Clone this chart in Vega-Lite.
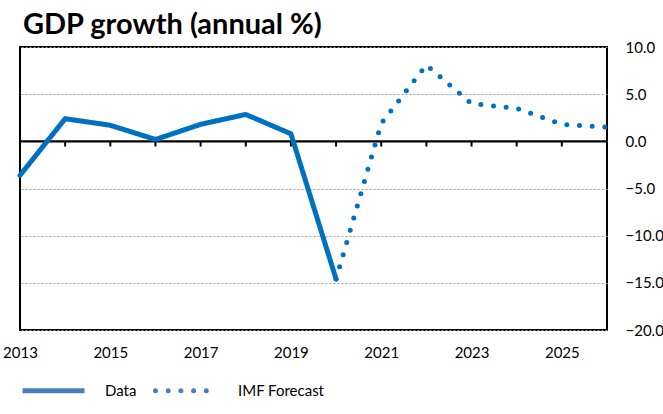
{
  "$schema": "https://vega.github.io/schema/vega-lite/v6.json",
  "width": 587,
  "height": 283,
  "autosize": "none",
  "padding": {"left": 20, "top": 47, "right": 56, "bottom": 84},
  "background": "white",
  "title": {
    "text": "GDP growth (annual %)",
    "anchor": "start",
    "frame": "group",
    "font": "Lato",
    "fontSize": 29,
    "fontWeight": "bold",
    "color": "#000000",
    "baseline": "alphabetic",
    "offset": 4,
    "dy": 27,
    "dx": 3
  },
  "config": {
    "view": {"stroke": "#000000", "strokeWidth": 2},
    "axis": {"labelFont": "Lato", "labelFontSize": 15, "labelColor": "#000000"},
    "legend": {"labelFont": "Lato", "labelFontSize": 15, "labelColor": "#000000"}
  },
  "datasets": {
    "gdp": [
      {"year": 2013, "value": -3.6, "series": "Data"},
      {"year": 2014, "value": 2.4, "series": "Data"},
      {"year": 2015, "value": 1.7, "series": "Data"},
      {"year": 2016, "value": 0.2, "series": "Data"},
      {"year": 2017, "value": 1.8, "series": "Data"},
      {"year": 2018, "value": 2.85, "series": "Data"},
      {"year": 2019, "value": 0.8, "series": "Data"},
      {"year": 2020, "value": -14.6, "series": "Data"},
      {"year": 2020, "value": -14.6, "series": "IMF Forecast"},
      {"year": 2021, "value": 1.9, "series": "IMF Forecast"},
      {"year": 2022, "value": 8.1, "series": "IMF Forecast"},
      {"year": 2023, "value": 4.0, "series": "IMF Forecast"},
      {"year": 2024, "value": 3.5, "series": "IMF Forecast"},
      {"year": 2025, "value": 1.8, "series": "IMF Forecast"},
      {"year": 2026, "value": 1.5, "series": "IMF Forecast"}
    ],
    "ticks": [
      {"year": 2014, "top": 0, "bottom": -0.55},
      {"year": 2015, "top": 0, "bottom": -0.55},
      {"year": 2016, "top": 0, "bottom": -0.55},
      {"year": 2017, "top": 0, "bottom": -0.55},
      {"year": 2018, "top": 0, "bottom": -0.55},
      {"year": 2019, "top": 0, "bottom": -0.55},
      {"year": 2020, "top": 0, "bottom": -0.55},
      {"year": 2021, "top": 0, "bottom": -0.55},
      {"year": 2022, "top": 0, "bottom": -0.55},
      {"year": 2023, "top": 0, "bottom": -0.55},
      {"year": 2024, "top": 0, "bottom": -0.55},
      {"year": 2025, "top": 0, "bottom": -0.55}
    ],
    "zero": [{"value": 0}]
  },
  "layer": [
    {
      "data": {"name": "zero"},
      "mark": {"type": "rule", "color": "#000000", "strokeWidth": 2.2},
      "encoding": {
        "y": {
          "field": "value",
          "type": "quantitative",
          "scale": {"domain": [-20, 10], "nice": false, "zero": false},
          "axis": {
            "orient": "right",
            "values": [-20, -15, -10, -5, 0, 5, 10],
            "format": ".1f",
            "title": null,
            "domain": false,
            "ticks": false,
            "labelPadding": 18,
            "labelAlign": "left",
            "grid": true,
            "gridColor": "#9a9a9a",
            "gridDash": [2, 2],
            "gridWidth": 1
          }
        }
      }
    },
    {
      "data": {"name": "ticks"},
      "mark": {"type": "rule", "color": "#000000", "strokeWidth": 2},
      "encoding": {
        "x": {"field": "year", "type": "quantitative"},
        "y": {"field": "top", "type": "quantitative"},
        "y2": {"field": "bottom"}
      }
    },
    {
      "data": {"name": "gdp"},
      "mark": {"type": "line", "color": "#0070c0", "strokeWidth": 5, "strokeCap": "round", "strokeJoin": "round"},
      "encoding": {
        "x": {
          "field": "year",
          "type": "quantitative",
          "scale": {"domain": [2013, 2026], "nice": false, "zero": false},
          "axis": {
            "values": [2013, 2015, 2017, 2019, 2021, 2023, 2025],
            "format": "d",
            "title": null,
            "domain": false,
            "ticks": false,
            "grid": false,
            "labelPadding": 15,
            "labelFlush": false
          }
        },
        "y": {"field": "value", "type": "quantitative"},
        "detail": {"field": "series"},
        "strokeDash": {
          "field": "series",
          "type": "nominal",
          "scale": {"domain": ["Data", "IMF Forecast"], "range": [[1, 0], [0, 12.7]]},
          "legend": {
            "title": null,
            "orient": "bottom",
            "direction": "horizontal",
            "offset": -3,
            "symbolType": "stroke",
            "symbolSize": 3844,
            "symbolStrokeWidth": 5,
            "symbolStrokeColor": "#4a7ebb",
            "labelOffset": 18,
            "columnPadding": 8,
            "encode": {
              "symbols": {
                "update": {
                  "strokeCap": {"signal": "datum.value === 'IMF Forecast' ? 'round' : 'butt'"},
                  "stroke": {"value": "#4a7ebb"},
                  "strokeWidth": {"value": 5}
                }
              }
            }
          }
        }
      }
    }
  ]
}
